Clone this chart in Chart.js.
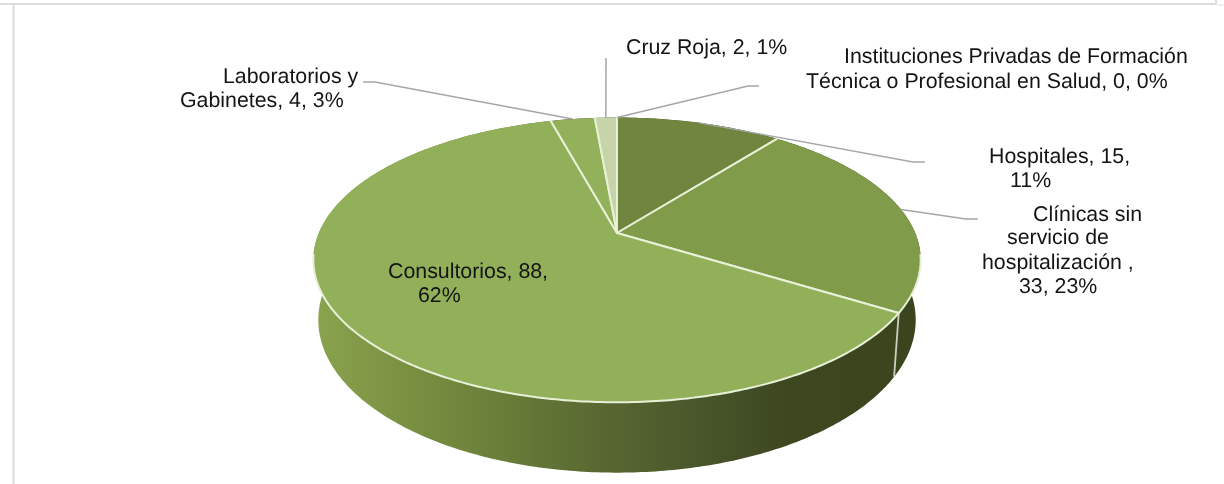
<!DOCTYPE html>
<html><head><meta charset="utf-8">
<style>html,body{margin:0;padding:0;background:#fff}canvas{display:block}</style>
<script src="https://cdn.jsdelivr.net/npm/chart.js@4"></script>
</head><body>
<canvas id="c" width="1224" height="484"></canvas>
<script>
const categories = ["Hospitales","Clínicas sin servicio de hospitalización","Consultorios","Laboratorios y Gabinetes","Cruz Roja","Instituciones Privadas de Formación Técnica o Profesional en Salud"];
const values = [15,33,88,4,2,0];
const sliceColors = ["#70853d","#809c4a","#92b059","#93b15a","#c7d4aa","#dfe8cc"];
const labelLines = [
  ["Hospitales, 15,","11%"],
  ["Clínicas sin","servicio de","hospitalización ,","33, 23%"],
  ["Consultorios, 88,","62%"],
  ["Laboratorios y","Gabinetes, 4, 3%"],
  ["Cruz Roja, 2, 1%"],
  ["Instituciones Privadas de Formación","Técnica o Profesional en Salud, 0, 0%"]
];
const labelX = [[989,1010],[1033,1007,982,1019],[388,418],[223,180],[626],[844,806]];
const labelY = [[163,187],[221,244,269,293],[278,302],[83,107],[53.5],[63,88]];
const leaderElbows = [[[913,162],[925,162]],[[966,219],[978,219]],null,[[375,82],[363,82]],[[606,58]],[[748,86],[759,86]]];

// perspective view of the pie
const VIEW = {sx:1.2854, sy:0.5918, k:0.189, depthY:58, floorX:0.9836, floorY:1.073, rimFrom:0.15};

function project(arc, t, floor){
  const r = arc.outerRadius;
  const w = 1 - VIEW.k*Math.sin(t);
  return {x: arc.x + r*VIEW.sx*(floor?VIEW.floorX:1)*Math.cos(t)/w,
          y: arc.y + (floor?VIEW.depthY:0) + r*VIEW.sy*(floor?VIEW.floorY:1)*Math.sin(t)/w};
}
function rimPath(ctx, arc, a, b, floor, first){
  const n = Math.max(2, Math.ceil(Math.abs(b-a)*80));
  for(let i=0;i<=n;i++){
    const p = project(arc, a+(b-a)*i/n, floor);
    if(i===0 && first) ctx.moveTo(p.x,p.y); else ctx.lineTo(p.x,p.y);
  }
}

class PerspArc extends Chart.ArcElement {
  static id = 'perspArc';
  draw(ctx){
    if(this.endAngle-this.startAngle<=0) return;
    const o = this.options;
    ctx.save();
    ctx.beginPath();
    ctx.moveTo(this.x,this.y);
    rimPath(ctx,this,this.startAngle,this.endAngle,false,false);
    ctx.closePath();
    ctx.fillStyle = o.backgroundColor;
    ctx.fill();
    // seams run along the radii; the pale rim shows only on the front edge
    ctx.lineWidth = o.borderWidth;
    ctx.strokeStyle = o.borderColor;
    ctx.lineCap = 'round';
    ctx.beginPath();
    [this.startAngle,this.endAngle].forEach(t=>{
      const p = project(this,t,false);
      ctx.moveTo(this.x,this.y); ctx.lineTo(p.x,p.y);
    });
    const n = Math.ceil((this.endAngle-this.startAngle)*80);
    let pen = false;
    for(let i=0;i<=n;i++){
      const t = this.startAngle+(this.endAngle-this.startAngle)*i/n;
      if(Math.sin(t)>VIEW.rimFrom){
        const p = project(this,t,false);
        if(pen) ctx.lineTo(p.x,p.y); else ctx.moveTo(p.x,p.y);
        pen = true;
      } else pen = false;
    }
    ctx.stroke();
    ctx.restore();
  }
}
class PerspPie extends Chart.PieController {
  static id = 'perspPie';
  static defaults = {dataElementType:'perspArc'};
}
Chart.register(PerspArc, PerspPie);

const frame = {
  id:'frame',
  beforeDraw(chart){
    const c = chart.ctx;
    c.save();
    c.strokeStyle='#dcdcdc'; c.lineWidth=2;
    c.beginPath(); c.moveTo(0,4); c.lineTo(1217,4); c.moveTo(1216,0); c.lineTo(1216,4); c.moveTo(13.5,4); c.lineTo(13.5,484); c.stroke();
    c.strokeStyle='#f0f0f0'; c.beginPath(); c.moveTo(1217,5); c.lineTo(1224,5); c.stroke();
    c.restore();
  }
};
const walls = {
  id:'walls',
  beforeDatasetsDraw(chart){
    const c = chart.ctx, arcs = chart.getDatasetMeta(0).data;
    c.save();
    arcs.forEach((arc,i)=>{
      const a = arc.startAngle, b = arc.endAngle;
      if(b-a<=0) return;
      const g = c.createLinearGradient(314,0,920,0);
      if(i===2){
        g.addColorStop(0,'#8aa34e'); g.addColorStop(0.175,'#778e40'); g.addColorStop(0.32,'#687c38');
        g.addColorStop(0.48,'#586731'); g.addColorStop(0.64,'#49552a'); g.addColorStop(0.77,'#3d4821'); g.addColorStop(1,'#3a451e');
      } else { g.addColorStop(0,'#3a451e'); g.addColorStop(1,'#3a451e'); }
      c.beginPath();
      rimPath(c,arc,a,b,false,true);
      rimPath(c,arc,b,a,true,false);
      c.closePath();
      c.fillStyle=g; c.fill();
    });
    // pale seam where visible slices meet on the wall
    c.strokeStyle='#c9cfc0'; c.lineWidth=1.8;
    arcs.forEach(arc=>{
      const t = arc.endAngle;
      if(Math.sin(t)>0 && arc.endAngle>arc.startAngle){
        const p = project(arc,t,false), q = project(arc,t,true);
        c.beginPath(); c.moveTo(p.x,p.y); c.lineTo(q.x,q.y); c.stroke();
      }
    });
    c.restore();
  }
};
const labels = {
  id:'labels',
  afterDatasetsDraw(chart){
    const c = chart.ctx, arcs = chart.getDatasetMeta(0).data;
    c.save();
    c.strokeStyle='#a6a6a6'; c.lineWidth=1.5;
    arcs.forEach((arc,i)=>{
      const el = leaderElbows[i];
      if(!el) return;
      const p = project(arc,(arc.startAngle+arc.endAngle)/2,false);
      c.beginPath(); c.moveTo(p.x,p.y);
      el.forEach(e=>c.lineTo(e[0],e[1]));
      c.stroke();
    });
    c.fillStyle='#141414';
    c.font='21.33px "Liberation Sans", Arial, sans-serif';
    c.textRendering='geometricPrecision';
    c.textBaseline='alphabetic'; c.textAlign='left';
    labelLines.forEach((lines,i)=>lines.forEach((s,j)=>c.fillText(s,labelX[i][j],labelY[i][j])));
    c.restore();
  }
};

new Chart(document.getElementById('c'),{
  type:'perspPie',
  data:{labels:categories,datasets:[{data:values,backgroundColor:sliceColors,borderColor:'#e8f0d8',borderWidth:2}]},
  options:{
    responsive:false,animation:false,
    layout:{padding:{left:10,right:0,top:0,bottom:18}},
    plugins:{legend:{display:false},tooltip:{enabled:false}}
  },
  plugins:[frame,walls,labels]
});
</script>
</body></html>
